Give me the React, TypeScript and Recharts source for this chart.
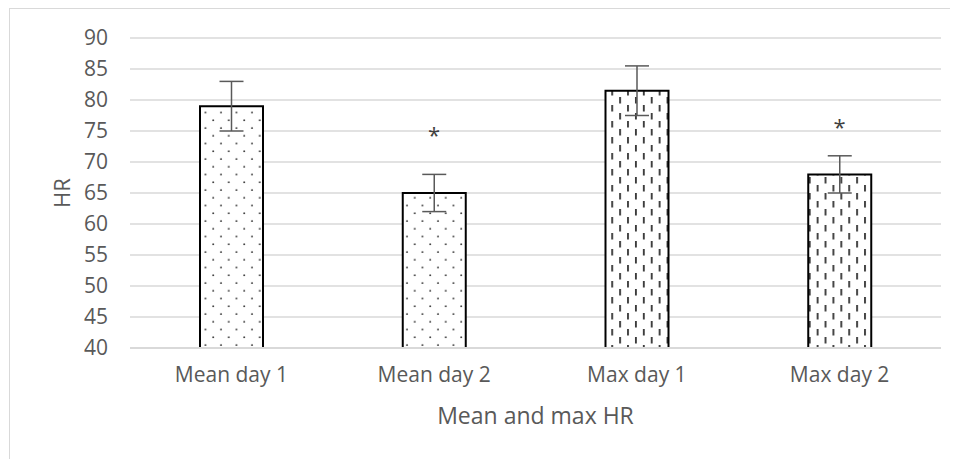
import React from "react";
import {
  ComposedChart,
  Bar,
  Cell,
  ErrorBar,
  Scatter,
  XAxis,
  YAxis,
  CartesianGrid,
} from "recharts";

const categories = ["Mean day 1", "Mean day 2", "Max day 1", "Max day 2"];
const hrValues = [79, 65, 81.5, 68];
const hrErrors = [4, 3, 4, 3];
const starLevels = [null, 75, null, 76.3];
const patterns = ["url(#dots)", "url(#dots)", "url(#dashes)", "url(#dashes)"];
const yTicks = [40, 45, 50, 55, 60, 65, 70, 75, 80, 85, 90];

const data = categories.map((name, i) => ({
  name,
  hr: hrValues[i],
  err: hrErrors[i],
  star: starLevels[i],
}));

const font = "'Open Sans', sans-serif";
const textColor = "#595959";
const gridColor = "#d9d9d9";

const Star = (props: any) => {
  const { cx, cy, payload } = props;
  if (payload == null || payload.star == null) return null;
  return (
    <text
      x={cx}
      y={cy + 12}
      textAnchor="middle"
      fontSize={22}
      fontFamily={font}
      fill="#404040"
    >
      *
    </text>
  );
};

const YTitle = (props: any) => {
  const { viewBox } = props;
  const x = viewBox.x + 61;
  const y = viewBox.y + viewBox.height / 2;
  return (
    <text
      x={x}
      y={y}
      transform={`rotate(-90, ${x}, ${y})`}
      textAnchor="middle"
      dominantBaseline="central"
      fontSize={22}
      fontFamily={font}
      fill={textColor}
    >
      HR
    </text>
  );
};

const App: React.FC = () => {
  return (
    <div
      style={{
        position: "relative",
        width: 958,
        height: 459,
        margin: "-8px 0 0 -8px",
        overflow: "hidden",
        background: "#fff",
      }}
    >
      <div
        style={{
          position: "absolute",
          left: 9,
          top: 8,
          width: 980,
          height: 480,
          border: `1.5px solid ${gridColor}`,
        }}
      />
      <div style={{ position: "absolute", left: 0, top: 0 }}>
        <ComposedChart
          width={958}
          height={459}
          data={data}
          margin={{ top: 38, right: 17, left: 0, bottom: 0 }}
        >
          <defs>
            <pattern
              id="dots"
              patternUnits="userSpaceOnUse"
              width={15.5}
              height={15.5}
            >
              <rect width={15.5} height={15.5} fill="#fff" />
              <circle cx={4} cy={4} r={0.95} fill="#333" />
              <circle cx={11.75} cy={11.75} r={0.95} fill="#333" />
            </pattern>
            <pattern
              id="dashes"
              patternUnits="userSpaceOnUse"
              width={15.8}
              height={16}
            >
              <rect width={15.8} height={16} fill="#fff" />
              <rect x={3} y={1} width={1.8} height={6.5} fill="#333" />
              <rect x={10.9} y={9} width={1.8} height={6.5} fill="#333" />
            </pattern>
          </defs>
          <CartesianGrid
            vertical={false}
            stroke={gridColor}
            strokeWidth={1.5}
          />
          <XAxis
            dataKey="name"
            height={111}
            tickLine={false}
            tickSize={0}
            tickMargin={19}
            axisLine={{ stroke: gridColor, strokeWidth: 2 }}
            tick={{ fontSize: 21, fontFamily: font, fill: textColor }}
            label={{
              value: "Mean and max HR",
              position: "insideBottom",
              offset: 35,
              fontSize: 23,
              fontFamily: font,
              fill: textColor,
            }}
          />
          <YAxis
            width={130}
            domain={[40, 90]}
            ticks={yTicks}
            interval={0}
            axisLine={false}
            tickLine={false}
            tickSize={0}
            tickMargin={22}
            tick={{ fontSize: 21, fontFamily: font, fill: textColor }}
            label={<YTitle />}
          />
          <Bar
            dataKey="hr"
            barSize={63}
            stroke="#000"
            strokeWidth={2}
            isAnimationActive={false}
          >
            {data.map((d, i) => (
              <Cell key={d.name} fill={patterns[i]} />
            ))}
            <ErrorBar
              dataKey="err"
              direction="y"
              width={12}
              stroke="#595959"
              strokeWidth={1.5}
              isAnimationActive={false}
            />
          </Bar>
          <Scatter
            dataKey="star"
            shape={<Star />}
            isAnimationActive={false}
          />
        </ComposedChart>
      </div>
    </div>
  );
};

export default App;
